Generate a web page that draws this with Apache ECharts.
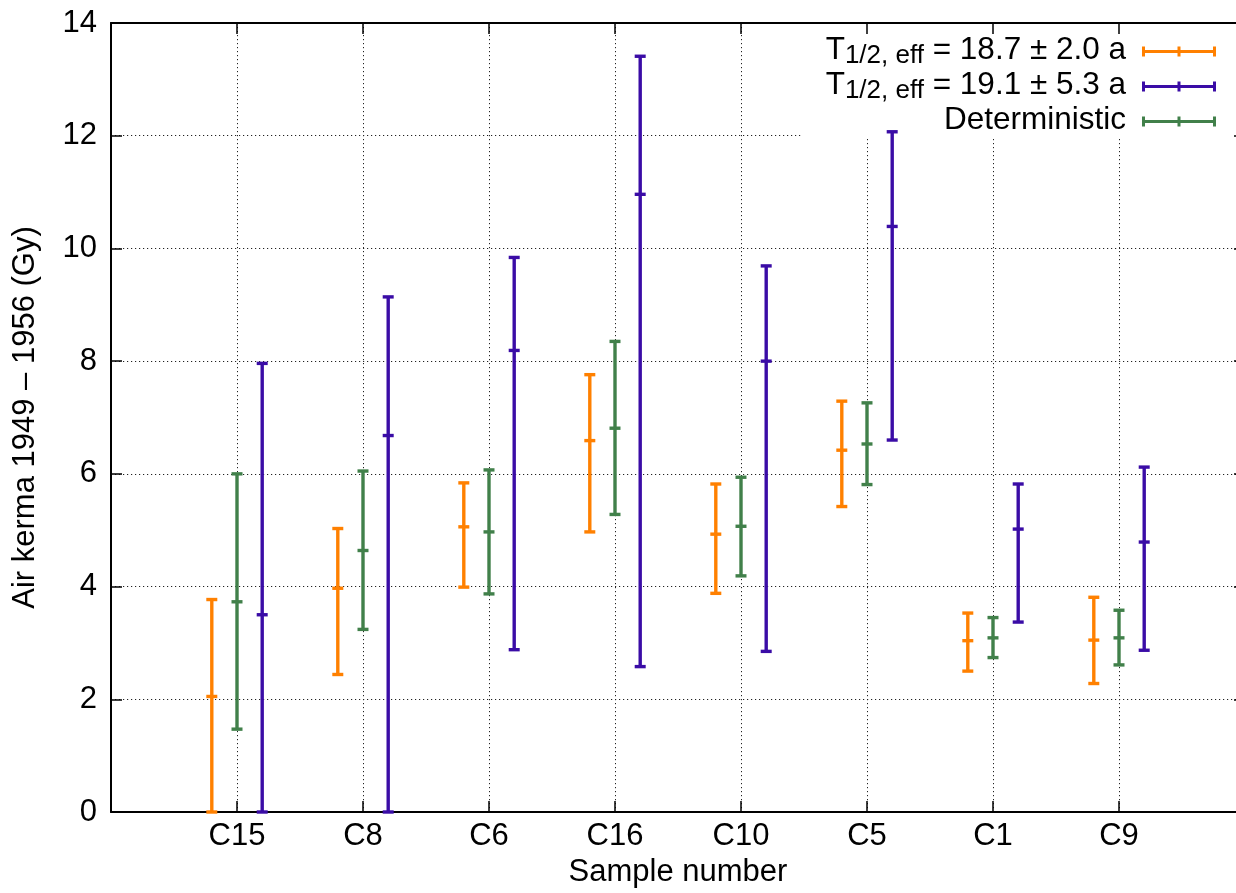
<!DOCTYPE html>
<html>
<head>
<meta charset="utf-8">
<script src="https://cdn.jsdelivr.net/npm/echarts@6/dist/echarts.min.js"></script>
<style>
  html, body { margin: 0; padding: 0; background: #fff; }
  #chart { width: 1236px; height: 893px; }
</style>
</head>
<body>
<div id="chart"></div>
<script>
// Samples along the x axis
const categories = ['C15', 'C8', 'C6', 'C16', 'C10', 'C5', 'C1', 'C9'];
const yTicks = [0, 2, 4, 6, 8, 10, 12, 14];

// T1/2,eff = 18.7 ± 2.0 a
const shortLow  = [0.00, 2.44, 3.99, 4.97, 3.88, 5.42, 2.50, 2.28];
const shortMid  = [2.05, 3.97, 5.06, 6.59, 4.93, 6.42, 3.04, 3.05];
const shortHigh = [3.77, 5.03, 5.84, 7.76, 5.82, 7.29, 3.53, 3.81];

// T1/2,eff = 19.1 ± 5.3 a
const longLow  = [0.00, 0.00, 2.88, 2.58, 2.85, 6.60, 3.37, 2.87];
const longMid  = [3.50, 6.68, 8.19, 10.96, 8.00, 10.39, 5.02, 4.79];
const longHigh = [7.96, 9.14, 9.84, 13.41, 9.69, 12.07, 5.82, 6.12];

// Deterministic estimate
const detLow  = [1.47, 3.24, 3.87, 5.28, 4.19, 5.81, 2.74, 2.61];
const detMid  = [3.73, 4.64, 4.97, 6.81, 5.07, 6.53, 3.09, 3.09];
const detHigh = [6.00, 6.05, 6.07, 8.35, 5.94, 7.26, 3.45, 3.58];

const seriesNames = ['T1/2, eff = 18.7 ± 2.0 a', 'T1/2, eff = 19.1 ± 5.3 a', 'Deterministic'];
const FONT = "'Liberation Sans', Arial, Helvetica, sans-serif";

function rows(low, mid, high) {
  return categories.map((c, i) => [i + 1, low[i], mid[i], high[i]]);
}

// Error bar: vertical whisker, caps at both ends and a tick at the central value
function errorBars(offset) {
  return function (params, api) {
    const x = api.value(0) + offset;
    const lo = api.coord([x, api.value(1)]);
    const md = api.coord([x, api.value(2)]);
    const hi = api.coord([x, api.value(3)]);
    const hw = 5.5;
    const style = { stroke: api.visual('color'), lineWidth: 3.4, lineCap: 'butt' };
    const hline = (p) => ({ type: 'line', shape: { x1: p[0] - hw, y1: p[1], x2: p[0] + hw, y2: p[1] }, style });
    return {
      type: 'group',
      children: [
        { type: 'line', shape: { x1: lo[0], y1: lo[1], x2: hi[0], y2: hi[1] }, style },
        hline(lo), hline(hi), hline(md)
      ]
    };
  };
}

const chart = echarts.init(document.getElementById('chart'), null, { renderer: 'canvas' });

const gridLine = { show: true, lineStyle: { color: '#222', width: 1, type: [1.2, 2.8] }, showMinLine: false, showMaxLine: false };
const tickStyle = { show: true, inside: true, length: 11, lineStyle: { color: '#000', width: 1.5 } };

const option = {
  animation: false,
  backgroundColor: '#fff',
  textStyle: { fontFamily: FONT },
  grid: { left: 111, right: -9, top: 23, bottom: 81, containLabel: false, outerBoundsMode: 'none' },
  xAxis: [
    {
      type: 'value', min: 0, max: 9, interval: 1, position: 'bottom',
      name: 'Sample number', nameLocation: 'middle', nameGap: 43,
      nameTextStyle: { fontSize: 31, color: '#000', fontFamily: FONT },
      axisLine: { show: true, onZero: false, lineStyle: { color: '#000', width: 2 } },
      axisTick: tickStyle,
      axisLabel: {
        fontSize: 31, color: '#000', margin: 9, fontFamily: FONT,
        formatter: (v) => categories[v - 1] || ''
      },
      splitLine: gridLine
    },
    {
      type: 'value', min: 0, max: 9, interval: 1, position: 'top', z: 3,
      axisLine: { show: true, onZero: false, lineStyle: { color: '#000', width: 2 } },
      axisTick: tickStyle,
      axisLabel: { show: false },
      splitLine: { show: false }
    }
  ],
  yAxis: [
    {
      type: 'value', min: yTicks[0], max: yTicks[yTicks.length - 1], interval: 2, position: 'left',
      name: 'Air kerma 1949 – 1956 (Gy)', nameLocation: 'middle', nameGap: 70,
      nameTextStyle: { fontSize: 31, color: '#000', fontFamily: FONT },
      axisLine: { show: true, onZero: false, lineStyle: { color: '#000', width: 2 } },
      axisTick: tickStyle,
      axisLabel: { fontSize: 31, color: '#000', margin: 14, fontFamily: FONT },
      splitLine: gridLine
    },
    {
      type: 'value', min: yTicks[0], max: yTicks[yTicks.length - 1], interval: 2, position: 'right', z: 3,
      axisLine: { show: true, onZero: false, lineStyle: { color: '#000', width: 2 } },
      axisTick: tickStyle,
      axisLabel: { show: false },
      splitLine: { show: false }
    }
  ],
  legend: {
    orient: 'vertical',
    right: 0, top: 23,
    padding: [11, 20, 2, 23],
    backgroundColor: '#fff',
    z: 1,
    align: 'right',
    itemGap: 0,
    itemWidth: 74, itemHeight: 10,
    selectedMode: false,
    icon: 'path://M0,0H3V10H0Z M0,3.5H74V6.5H0Z M71,0H74V10H71Z M35.5,0H38.5V10H35.5Z',
    itemStyle: { borderWidth: 0 },
    data: seriesNames,
    formatter: function (name) {
      if (name.indexOf('T1/2, eff') === 0) {
        return '{t|T}{s|1/2, eff}{t|' + name.slice('T1/2, eff'.length) + '}{g| }';
      }
      return '{t|' + name + '}{g| }';
    },
    textStyle: {
      fontFamily: FONT, color: '#000',
      rich: {
        t: { fontSize: 31.5, lineHeight: 25, verticalAlign: 'top', fontFamily: FONT, color: '#000' },
        s: { fontSize: 26, lineHeight: 20, verticalAlign: 'bottom', fontFamily: FONT, color: '#000' },
        g: { fontSize: 10, width: 11, lineHeight: 35 }
      }
    }
  },
  series: [
    {
      name: seriesNames[0], type: 'custom', z: 2,
      itemStyle: { color: '#ff8000' },
      renderItem: errorBars(-0.2),
      encode: { x: 0, y: [1, 3] },
      data: rows(shortLow, shortMid, shortHigh)
    },
    {
      name: seriesNames[1], type: 'custom', z: 2,
      itemStyle: { color: '#3a0ca6' },
      renderItem: errorBars(0.2),
      encode: { x: 0, y: [1, 3] },
      data: rows(longLow, longMid, longHigh)
    },
    {
      name: seriesNames[2], type: 'custom', z: 2,
      itemStyle: { color: '#41804a' },
      renderItem: errorBars(0),
      encode: { x: 0, y: [1, 3] },
      data: rows(detLow, detMid, detHigh)
    }
  ]
};

chart.setOption(option);
</script>
</body>
</html>
